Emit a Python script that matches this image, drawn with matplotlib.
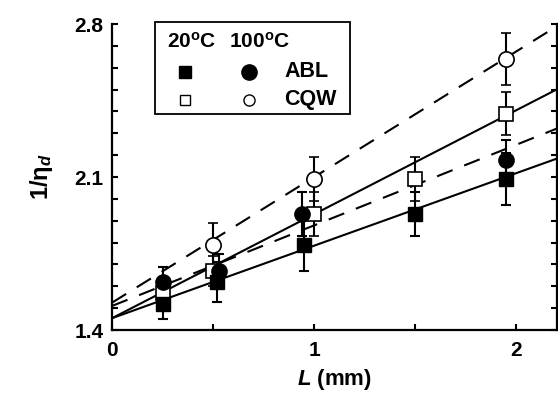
import matplotlib
matplotlib.use('Agg')
from matplotlib import pyplot as plt
from matplotlib.patches import Rectangle
import numpy as np

plt.rcParams['font.family'] = ['Liberation Sans', 'DejaVu Sans']
plt.rcParams['font.weight'] = 'bold'
plt.rcParams['axes.labelweight'] = 'bold'
plt.rcParams['mathtext.fontset'] = 'custom'
plt.rcParams['mathtext.rm'] = 'Liberation Sans:bold'
plt.rcParams['mathtext.it'] = 'Liberation Sans:italic:bold'

# ABL at 20 C (filled squares) and 100 C (filled circles)
abl20_x = [0.25, 0.52, 0.95, 1.5, 1.95]
abl20_y = [1.52, 1.62, 1.79, 1.93, 2.09]
abl20_err = [0.07, 0.09, 0.12, 0.10, 0.12]

abl100_x = [0.25, 0.53, 0.94, 1.95]
abl100_y = [1.62, 1.67, 1.93, 2.18]
abl100_err = [0.07, 0.08, 0.10, 0.09]

# CQW at 20 C (open squares) and 100 C (open circles)
cqw20_x = [0.25, 0.5, 1.0, 1.5, 1.95]
cqw20_y = [1.57, 1.67, 1.93, 2.09, 2.39]
cqw20_err = [0.07, 0.07, 0.10, 0.10, 0.10]

cqw100_x = [0.5, 1.0, 1.95]
cqw100_y = [1.79, 2.09, 2.64]
cqw100_err = [0.10, 0.10, 0.12]

# linear fits: intercept, slope
fit_abl20 = (1.454, 0.332)
fit_cqw20 = (1.454, 0.476)
fit_abl100 = (1.51, 0.369)
fit_cqw100 = (1.525, 0.575)

ytick_labels = {1.4: '1.4', 2.1: '2.1', 2.8: '2.8'}

fig = plt.figure(figsize=(5.58, 3.94), dpi=100)
ax = fig.add_axes([0.2007, 0.1624, 0.7973, 0.7766])

xx = np.array([0, 2.2])
for (b, m) in [fit_abl20, fit_cqw20]:
    ax.plot(xx, b + m * xx, color='k', lw=1.5, zorder=2)
for (b, m) in [fit_abl100, fit_cqw100]:
    ax.plot(xx, b + m * xx, color='k', lw=1.5, dashes=(8, 6), zorder=2)

eb = dict(ecolor='k', elinewidth=1.5, capsize=3.5, capthick=1.5, ls='none', zorder=3)
ax.errorbar(cqw20_x, cqw20_y, yerr=cqw20_err, fmt='s', mfc='white', mec='k',
            mew=1.2, ms=10, **eb)
ax.errorbar(cqw100_x, cqw100_y, yerr=cqw100_err, fmt='o', mfc='white', mec='k',
            mew=1.2, ms=11, **eb)
ax.errorbar(abl100_x, abl100_y, yerr=abl100_err, fmt='o', mfc='k', mec='k',
            ms=11, **eb)
ax.errorbar(abl20_x, abl20_y, yerr=abl20_err, fmt='s', mfc='k', mec='k',
            ms=10, **eb)

ax.set_xlim(0, 2.2)
ax.set_ylim(1.4, 2.8)
ax.spines['top'].set_visible(False)
for s in ['left', 'right', 'bottom']:
    ax.spines[s].set_linewidth(1.6)

ax.set_xticks([0, 0.5, 1, 1.5, 2])
ax.set_xticklabels(['0', '', '1', '', '2'])
yt = np.round(np.arange(1.4, 2.81, 0.1), 1)
ax.set_yticks(yt)
ax.set_yticklabels([ytick_labels.get(float(v), '') for v in yt])
ax.tick_params(direction='in', length=4.5, width=1.5, labelsize=15, pad=6)
ax.tick_params(axis='y', right=True)
ax.tick_params(axis='x', pad=8)

ax.set_xlabel(r'$L$ (mm)', fontsize=16, labelpad=5)
ax.set_ylabel(r'1/$\mathregular{\eta}_{d}$', fontsize=17, labelpad=14)

# legend box
ax.add_patch(Rectangle((0.096, 0.706), 0.44, 0.301, transform=ax.transAxes,
                       fill=False, ec='k', lw=1.3, clip_on=False, zorder=5))
ax.text(0.123, 0.942, r'20$^\mathregular{o}$C', transform=ax.transAxes,
        fontsize=15, va='center', ha='left')
ax.text(0.262, 0.942, r'100$^\mathregular{o}$C', transform=ax.transAxes,
        fontsize=15, va='center', ha='left')
ax.plot([0.164], [0.844], 's', color='k', ms=8.5, transform=ax.transAxes, clip_on=False)
ax.plot([0.309], [0.844], 'o', color='k', ms=11, transform=ax.transAxes, clip_on=False)
ax.plot([0.164], [0.752], 's', mfc='white', mec='k', mew=1.0, ms=7.5,
        transform=ax.transAxes, clip_on=False)
ax.plot([0.309], [0.752], 'o', mfc='white', mec='k', mew=1.0, ms=8,
        transform=ax.transAxes, clip_on=False)
ax.text(0.388, 0.844, 'ABL', transform=ax.transAxes, fontsize=15.5, va='center')
ax.text(0.388, 0.752, 'CQW', transform=ax.transAxes, fontsize=15.5, va='center')

plt.savefig('out.png', dpi=100)
